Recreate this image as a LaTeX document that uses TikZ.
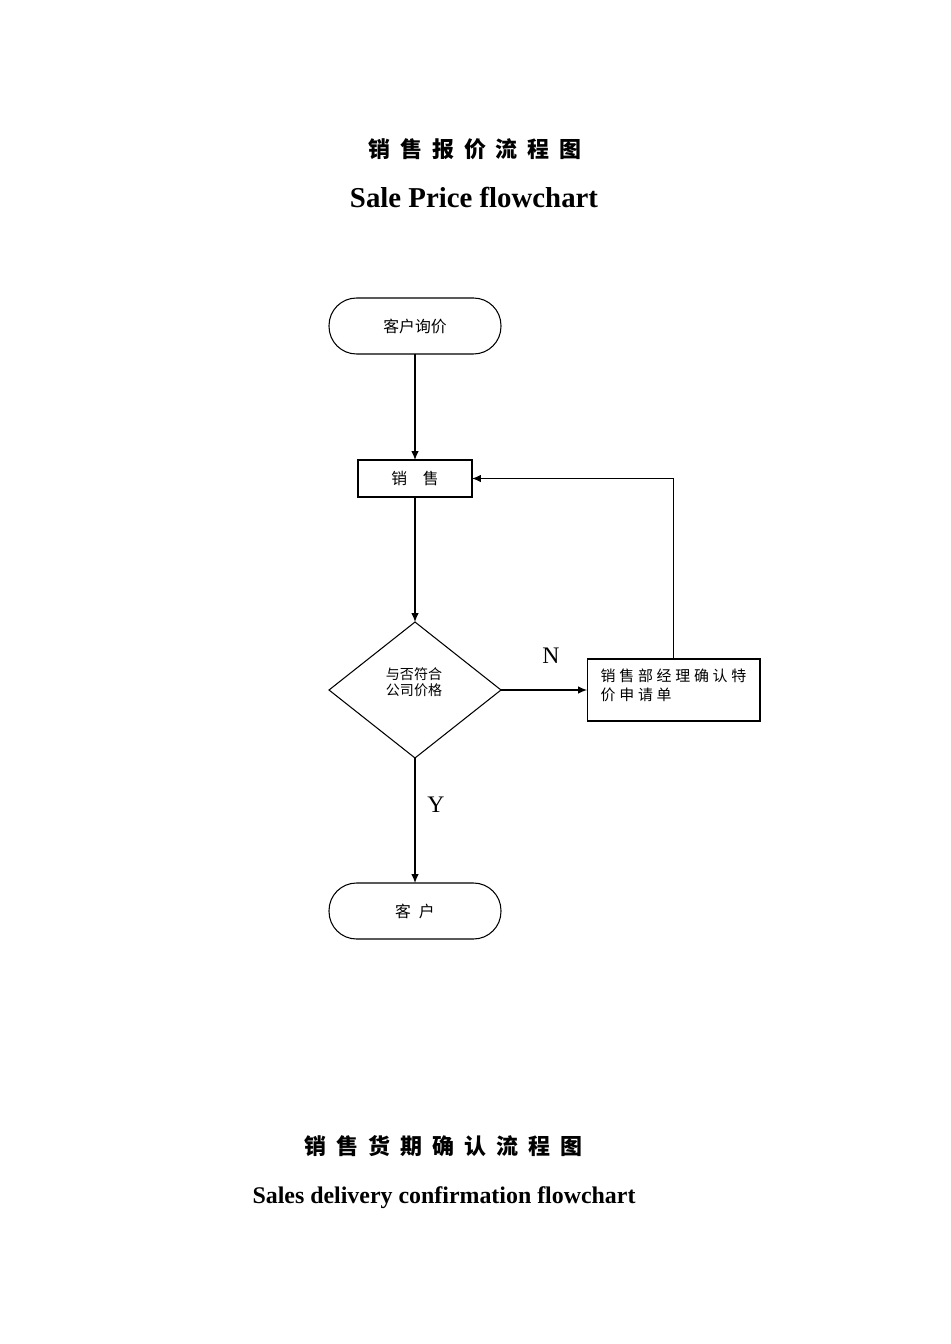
\documentclass[tikz,border=0pt]{standalone}
\usepackage{fontspec}
\setmainfont{Liberation Serif}
\newfontfamily\cjk{Noto Sans CJK SC}
\newfontfamily\cjkwide[LetterSpace=25]{Noto Sans CJK SC}
\usetikzlibrary{shapes.geometric, arrows.meta}
\newcommand\widetitle[1]{\spaceskip=0.2cm\relax #1}

\begin{document}
\begin{tikzpicture}[x=0.02cm, y=-0.02cm, line width=0.6pt]
\tikzset{ >={Latex[length=1.8mm,width=1.5mm]}, outer sep=0pt,
  ttl/.style={font=\cjk\bfseries\fontsize{12.5}{15}\selectfont},
  term/.style={draw, rectangle, rounded corners=0.55cm, minimum width=3.44cm, minimum height=1.12cm, font=\cjk\fontsize{9}{11}\selectfont},
  proc/.style={draw, rectangle, minimum width=2.28cm, minimum height=0.74cm, font=\cjk\fontsize{9}{11}\selectfont},
  decide/.style={draw, diamond, aspect=1.265, inner sep=0pt, minimum width=3.44cm, minimum height=2.72cm},
  lbl/.style={font=\fontsize{13.5}{16}\selectfont},
}
\useasboundingbox (0,0) rectangle (950,1344);
%\draw [lightgray, dashed](0,0) grid[step=50] (950,1344);

% titles
\node [ttl] (T1) at (475,149) {\widetitle{销 售 报 价 流 程 图}};
\node [anchor=base, font=\bfseries\fontsize{16.4}{19}\selectfont] (E1) at (474,208) {Sale Price flowchart};

% flow
\node [term] (start) at (415,326) {客户询价};
\node [proc] (sales) at (415,478.5) {销　售};
\node [decide] (dec) at (415,690) {};
\node [align=center, font=\cjk\fontsize{8}{9}\selectfont] (dectxt) at (414,682) {与否符合\\公司价格};
\node [proc, minimum width=3.46cm, minimum height=1.24cm, align=left, text depth=5.5pt,
       font=\cjkwide\fontsize{8.5}{10.8}\selectfont] (mgr) at (673.5,690) {销售部经理确认特\\价申请单};
\node [term] (fin) at (415,911) {客\enspace 户};

\draw [->] (start) -- (sales);
\draw [->] (sales) -- (dec);
\draw [->] (dec) -- (mgr);
\draw [->] (mgr.north) |- (sales.east);
\draw [->] (dec) -- (fin);

\node [lbl] (N) at (551,656) {N};
\node [lbl] (Y) at (436,805) {Y};

% second title
\node [ttl] (T2) at (443.5,1146) {\widetitle{销 售 货 期 确 认 流 程 图}};
\node [anchor=base, font=\bfseries\fontsize{13.6}{16}\selectfont] (E2) at (444,1203) {Sales delivery confirmation flowchart};

\end{tikzpicture}
\end{document}
